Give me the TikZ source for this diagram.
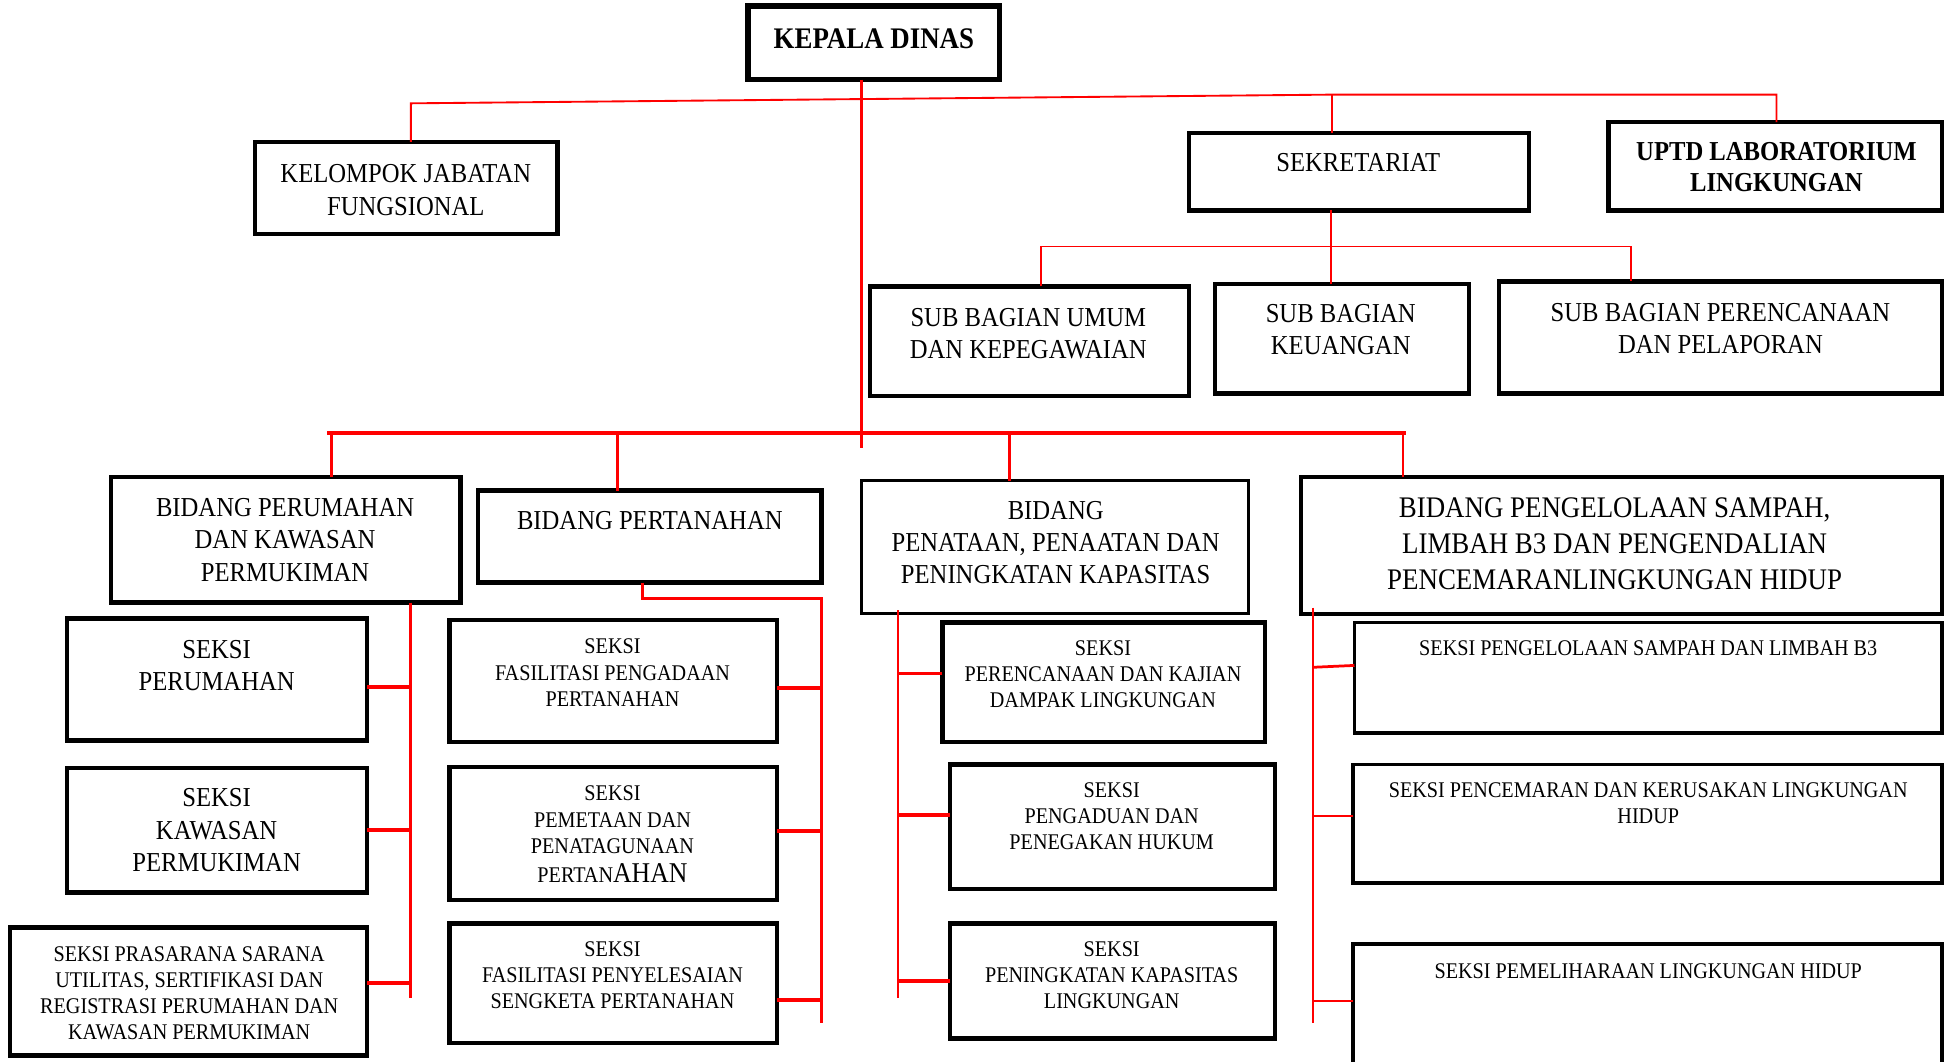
\documentclass[tikz,border=0pt]{standalone}
\usepackage{fontspec}
\setmainfont[FakeStretch=0.9]{Liberation Serif}
\newcommand\orgbx[6][]{\node[boxst,#1,anchor=north west,minimum width={(#5-#3)*0.5pt},minimum height={(#6-#4)*0.5pt}] (#2) at (#3,#4) {};}
\begin{document}
\begin{tikzpicture}[x=0.5pt,y=-0.5pt,
  boxst/.style={draw=black,line width=1.8pt,inner sep=0pt,outer sep=0pt},
  txt/.style={align=center,inner sep=0pt,anchor=north},
  fA/.style={txt,font=\fontsize{11}{13}\selectfont},
  fB/.style={txt,font=\fontsize{9}{10.5}\selectfont},
  fC/.style={txt,font=\fontsize{12}{14.5}\selectfont},
  fD/.style={txt,font=\bfseries\fontsize{11}{12.5}\selectfont},
  redthin/.style={draw=red,line width=0.75pt},
  redmid/.style={draw=red,line width=1.1pt},
  redthick/.style={draw=red,line width=1.6pt}]
\useasboundingbox (0,0) rectangle (1568,853);

% ---------- boxes ----------
\orgbx[line width=2.2pt]{kd}{601}{5}{803}{64}
\orgbx{kjf}{205}{114}{448}{188}
\orgbx{sek}{955}{107}{1228}{169}
\orgbx{uptd}{1292}{98}{1560}{169}
\orgbx{sbu}{699}{230}{955}{318}
\orgbx{keu}{976}{228}{1180}{316}
\orgbx{sbp}{1204}{226}{1560}{316}
\orgbx{bpk}{89}{383}{370}{484}
\orgbx{bpt}{384}{394}{660}{468}
\orgbx[line width=1.4pt]{bpn}{692}{386}{1003}{493}
\orgbx{bps}{1045}{383}{1560}{493}
\orgbx{sp}{54}{497}{295}{595}
\orgbx{skp}{54}{617}{295}{717}
\orgbx{spr}{8}{745}{295}{848}
\orgbx{sfp}{361}{498}{624}{596}
\orgbx{spp}{361}{616}{624}{723}
\orgbx{sfs}{361}{742}{624}{838}
\orgbx{srk}{757}{500}{1016}{596}
\orgbx{spd}{763}{614}{1024}{714}
\orgbx{spk}{763}{742}{1024}{834}
\orgbx[line width=1.5pt]{sps}{1088}{500}{1560}{589}
\orgbx[line width=1.5pt]{spc}{1087}{614}{1560}{709}
\orgbx[line width=1.5pt]{spl}{1087}{758}{1560}{880}

% ---------- texts ----------
\node[txt,font=\bfseries\fontsize{12}{14}\selectfont] (kdT) at (702,23) {KEPALA DINAS};
\node[fA] (kjfT) at (326,132) {KELOMPOK JABATAN\\FUNGSIONAL};
\node[fA] (sekT) at (1091,123) {SEKRETARIAT};
\node[fD] (uptdT) at (1427,114) {UPTD LABORATORIUM\\LINGKUNGAN};
\node[fA] (sbuT) at (826,247) {SUB BAGIAN UMUM\\DAN KEPEGAWAIAN};
\node[fA] (keuT) at (1077,244) {SUB BAGIAN\\KEUANGAN};
\node[fA] (sbpT) at (1382,243) {SUB BAGIAN PERENCANAAN\\DAN PELAPORAN};
\node[fA] (bpkT) at (229,400) {BIDANG PERUMAHAN\\DAN KAWASAN\\PERMUKIMAN};
\node[fA] (bptT) at (522,410) {BIDANG PERTANAHAN};
\node[fA] (bpnT) at (848,402) {BIDANG\\PENATAAN, PENAATAN DAN\\PENINGKATAN KAPASITAS};
\node[fC] (bpsT) at (1297,399) {BIDANG PENGELOLAAN SAMPAH,\\LIMBAH B3 DAN PENGENDALIAN\\PENCEMARANLINGKUNGAN HIDUP};
\node[fA] (spT) at (174,514) {SEKSI\\PERUMAHAN};
\node[fA] (skpT) at (174,633) {SEKSI\\KAWASAN\\PERMUKIMAN};
\node[fB] (sprT) at (152,760) {SEKSI PRASARANA SARANA\\UTILITAS, SERTIFIKASI DAN\\REGISTRASI PERUMAHAN DAN\\KAWASAN PERMUKIMAN};
\node[fB] (sfpT) at (492,513) {SEKSI\\FASILITASI PENGADAAN\\PERTANAHAN};
\node[fB] (sppT) at (492,631) {SEKSI\\PEMETAAN DAN\\PENATAGUNAAN\\[1.2pt]PERTAN{\fontsize{11.5}{13}\selectfont AHAN}};
\node[fB] (sfsT) at (492,756) {SEKSI\\FASILITASI PENYELESAIAN\\SENGKETA PERTANAHAN};
\node[fB] (srkT) at (886,514) {SEKSI\\PERENCANAAN DAN KAJIAN\\DAMPAK LINGKUNGAN};
\node[fB] (spdT) at (893,628) {SEKSI\\PENGADUAN DAN\\PENEGAKAN HUKUM};
\node[fB] (spkT) at (893,756) {SEKSI\\PENINGKATAN KAPASITAS\\LINGKUNGAN};
\node[fB] (spsT) at (1324,514) {SEKSI PENGELOLAAN SAMPAH DAN LIMBAH B3};
\node[fB] (spcT) at (1324,628) {SEKSI PENCEMARAN DAN KERUSAKAN LINGKUNGAN\\HIDUP};
\node[fB] (splT) at (1324,774) {SEKSI PEMELIHARAAN LINGKUNGAN HIDUP};

% ---------- connectors ----------
% top level
\coordinate (tL) at (330,83);
\coordinate (tM) at (1070,76);
\coordinate (tR) at (1427,76);
\draw[redthin] (kjf.north -| tL) -- (tL) -- (tM) -- (tR) -- (uptd.north -| tR);
\draw[redthin] (tM) -- (sek.north -| tM);
% main vertical and bus
\coordinate (mx) at (692,360);
\draw[redmid] (kd.south -| mx) -- (mx);
\coordinate (bL) at (263,348);
\coordinate (bR) at (1129,348);
\draw[redthick] (bL) -- (bR);
\coordinate (d1) at (266,348);
\coordinate (d2) at (496,348);
\coordinate (d3) at (811,348);
\coordinate (d4) at (1127,348);
\draw[redmid] (d1) -- (bpk.north -| d1);
\draw[redmid] (d2) -- (bpt.north -| d2);
\draw[redmid] (d3) -- (bpn.north -| d3);
\draw[redmid] (d4) -- (bps.north -| d4);
% sekretariat
\coordinate (sL) at (836,198);
\coordinate (sM) at (1069,198);
\coordinate (sR) at (1310,198);
\draw[redthin] (sek.south -| sM) -- (keu.north -| sM);
\draw[redthin] (sbu.north -| sL) -- (sL) -- (sR) -- (sbp.north -| sR);
% bidang perumahan
\coordinate (v1) at (330,802);
\draw[redmid] (bpk.south -| v1) -- (v1);
\draw[redthick] ([yshift=-3pt]sp.east) -- ([yshift=-3pt]sp.east -| v1);
\draw[redthick] (skp.east) -- (skp.east -| v1);
\draw[redthick] ([yshift=3.5pt]spr.east) -- ([yshift=3.5pt]spr.east -| v1);
% bidang pertanahan
\coordinate (p0) at (516,481);
\coordinate (p1) at (660,481);
\coordinate (p2) at (660,822);
\draw[redmid] (bpt.south -| p0) -- (p0) -- (p1) -- (p2);
\draw[redthick] ([yshift=-3pt]sfp.east) -- ([yshift=-3pt]sfp.east -| p2);
\draw[redthick] ([yshift=1pt]spp.east) -- ([yshift=1pt]spp.east -| p2);
\draw[redthick] ([yshift=-6.5pt]sfs.east) -- ([yshift=-6.5pt]sfs.east -| p2);
% bidang penataan
\coordinate (q0) at (721,490);
\coordinate (q1) at (721,802);
\draw[redthin] (q0) -- (q1);
\draw[redthick] ([yshift=3.5pt]srk.west) -- ([yshift=3.5pt]srk.west -| q1);
\draw[redthick] ([yshift=4.5pt]spd.west) -- ([yshift=4.5pt]spd.west -| q1);
\draw[redthick] (spk.west) -- (spk.west -| q1);
% bidang pengelolaan
\coordinate (r0) at (1055,488);
\coordinate (r1) at (1055,822);
\coordinate (r2) at (1055,536);
\draw[redthin] (r0) -- (r1);
\draw[redmid] (r2) -- ([yshift=5pt]sps.west);
\draw[redmid] ([yshift=3pt]spc.west) -- ([yshift=3pt]spc.west -| r1);
\coordinate (r3) at (1055,804);
\draw[redmid] (r3) -- (spl.west |- r3);
\end{tikzpicture}
\end{document}
